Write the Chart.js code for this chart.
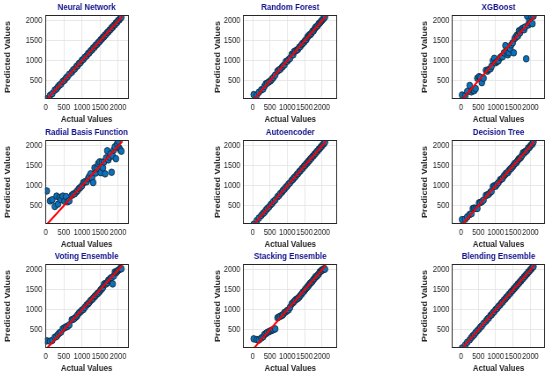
<!DOCTYPE html>
<html>
<head>
<meta charset="utf-8">
<script src="https://cdn.jsdelivr.net/npm/chart.js@4.4.1/dist/chart.umd.min.js"></script>
<style>
  body { margin: 0; background: #fff; }
  #fig { position: relative; width: 550px; height: 379px; overflow: hidden; }
  #fig canvas { position: absolute; transform-origin: 0 0; }
</style>
</head>
<body>
<div id="fig"></div>
<script>
// test set, shared by all models
const actualValues = [30, 120, 180, 250, 300, 340, 380, 420, 470, 520, 560, 600, 650, 720, 760, 800, 850, 880, 920, 960,
  1000, 1040, 1080, 1130, 1170, 1200, 1240, 1280, 1310, 1350, 1380, 1420, 1450, 1490, 1520, 1550, 1580, 1610, 1640, 1670,
  1700, 1730, 1760, 1790, 1820, 1850, 1880, 1910, 1940, 1970, 2000, 2030, 2060, 2090];

const modelNames = ['Neural Network', 'Random Forest', 'XGBoost', 'Radial Basis Function', 'Autoencoder',
  'Decision Tree', 'Voting Ensemble', 'Stacking Ensemble', 'Blending Ensemble'];

const nnPred = [45, 130, 175, 262, 296, 348, 388, 414, 480, 512, 568, 597, 660, 714, 770, 794, 858, 876, 930, 954,
  1012, 1036, 1088, 1124, 1180, 1196, 1248, 1276, 1320, 1344, 1390, 1414, 1458, 1486, 1528, 1546, 1590, 1606, 1648, 1664,
  1710, 1726, 1768, 1786, 1830, 1844, 1888, 1906, 1950, 1964, 2010, 2026, 2068, 2095];
const rfPred = [150, 140, 210, 270, 290, 360, 420, 440, 470, 500, 540, 580, 640, 740, 770, 790, 840, 870, 900, 980,
  990, 1030, 1060, 1160, 1150, 1230, 1250, 1270, 1290, 1340, 1360, 1410, 1440, 1470, 1510, 1530, 1590, 1620, 1650, 1660,
  1690, 1740, 1750, 1800, 1840, 1860, 1880, 1930, 1950, 1980, 2010, 2040, 2070, 2100];
const xgbPred = [140, 120, 230, 380, 220, 260, 250, 300, 560, 600, 580, 450, 560, 760, 740, 780, 800, 860, 1000, 1060,
  950, 980, 1000, 1080, 1110, 1100, 1200, 1380, 1250, 1150, 1200, 1300, 1400, 1450, 1200, 1560, 1600, 1640, 1620, 1750,
  1700, 1780, 1800, 1820, 1780, 1850, 1050, 2120, 1900, 2000, 1950, 2120, 1930, 2120];
const rbfPred = [870, 620, 650, 480, 740, 540, 700, 650, 740, 610, 730, 600, 620, 760, 790, 800, 850, 880, 930, 960,
  1000, 1080, 1100, 1100, 1180, 1230, 1300, 1200, 1080, 1450, 1320, 1440, 1560, 1600, 1330, 1590, 1450, 1600, 1300, 1700,
  1880, 1650, 1720, 1800, 1340, 1750, 1900, 1980, 1680, 2050, 2120, 1950, 1900, 1870];
const aePred = [35, 125, 190, 255, 305, 335, 385, 425, 465, 525, 555, 605, 645, 725, 755, 805, 845, 885, 915, 965,
  995, 1045, 1075, 1135, 1165, 1205, 1235, 1285, 1305, 1355, 1375, 1425, 1445, 1495, 1515, 1555, 1575, 1615, 1635, 1675,
  1695, 1735, 1755, 1795, 1815, 1855, 1875, 1915, 1935, 1975, 1995, 2035, 2055, 2095];
const dtPred = [150, 160, 220, 280, 300, 430, 440, 430, 430, 570, 580, 600, 640, 760, 770, 790, 840, 860, 980, 1000,
  990, 1040, 1080, 1150, 1170, 1190, 1250, 1290, 1320, 1330, 1380, 1420, 1440, 1480, 1520, 1560, 1570, 1600, 1640, 1680,
  1690, 1720, 1760, 1830, 1820, 1860, 1870, 1900, 1950, 1960, 2000, 2030, 2050, 2100];
const votePred = [220, 210, 230, 310, 330, 380, 420, 440, 520, 550, 570, 580, 620, 750, 760, 790, 830, 870, 920, 950,
  990, 1010, 1060, 1120, 1150, 1180, 1230, 1260, 1290, 1330, 1360, 1400, 1420, 1460, 1500, 1530, 1560, 1640, 1660, 1650,
  1680, 1740, 1760, 1790, 1810, 1650, 1850, 1950, 1930, 1960, 1990, 2010, 2040, 2030];
const stackPred = [270, 250, 240, 290, 320, 380, 400, 430, 450, 470, 490, 500, 520, 800, 820, 840, 860, 880, 930, 950,
  980, 1000, 1060, 1150, 1180, 1210, 1250, 1270, 1290, 1320, 1360, 1400, 1440, 1470, 1510, 1540, 1570, 1600, 1640, 1670,
  1690, 1720, 1760, 1790, 1830, 1840, 1870, 1900, 1950, 1970, 2000, 2000, 2030, 2020];
const blendPred = [40, 115, 185, 245, 305, 345, 375, 425, 475, 515, 565, 595, 655, 715, 765, 795, 855, 875, 925, 955,
  1005, 1035, 1085, 1125, 1175, 1195, 1245, 1275, 1315, 1345, 1385, 1415, 1455, 1485, 1525, 1545, 1585, 1605, 1645, 1665,
  1705, 1725, 1765, 1785, 1825, 1845, 1885, 1905, 1945, 1965, 2005, 2025, 2065, 2085];

const predictions = [nnPred, rfPred, xgbPred, rbfPred, aePred, dtPred, votePred, stackPred, blendPred];

const xTicks = [0, 500, 1000, 1500, 2000];
const yTicks = [500, 1000, 1500, 2000];
const idealLine = [0, 2120]; // y = x reference
const yRange = [40, 2150];
const xRanges = [[-20, 2280], [-280, 2450], [-260, 2430]];

// layout of the 3x3 grid (screen px); the figure looks squeezed sideways,
// so each canvas is drawn wider and scaled back with SX
const SX = 0.88;
const colLeft = [3, 213, 420];
const colAxisW = [42, 30, 32];
const colPlotW = [83, 94, 93];
const rowTop = [0, 125, 249];
const PAD_TOP = 15, PAD_RIGHT = 5, X_AXIS_H = 26, CANVAS_H = 125;

const FONT = '"Liberation Sans", Arial, sans-serif';
const TEXT = '#262626';

// title over the plot box + black box frame (matlab style)
const panelFrame = {
  id: 'panelFrame',
  afterDraw(chart, args, opts) {
    const { ctx, chartArea: a } = chart;
    ctx.save();
    ctx.strokeStyle = TEXT;
    ctx.lineWidth = 1;
    ctx.strokeRect(Math.round(a.left) + 0.5, Math.round(a.top) + 0.5,
      Math.round(a.right - a.left) - 1, Math.round(a.bottom - a.top) - 1);
    ctx.fillStyle = '#10108c';
    ctx.font = 'bold 9px ' + FONT;
    ctx.textAlign = 'center';
    ctx.textBaseline = 'middle';
    ctx.fillText(opts.text, (a.left + a.right) / 2, a.top - 7);
    ctx.restore();
  }
};

const fig = document.getElementById('fig');

modelNames.forEach((name, i) => {
  const col = i % 3, row = Math.floor(i / 3);
  const cv = document.createElement('canvas');
  const w = Math.round((colAxisW[col] + colPlotW[col] + PAD_RIGHT) / SX);
  cv.width = w;
  cv.height = CANVAS_H;
  cv.style.left = colLeft[col] + 'px';
  cv.style.top = rowTop[row] + 'px';
  cv.style.width = w + 'px';
  cv.style.height = CANVAS_H + 'px';
  cv.style.transform = 'scaleX(' + SX + ')';
  fig.appendChild(cv);

  const points = actualValues.map((a, k) => ({ x: a, y: predictions[i][k] }));
  const ideal = idealLine.map(v => ({ x: v, y: v }));

  new Chart(cv.getContext('2d'), {
    type: 'scatter',
    data: {
      datasets: [{
        data: ideal,
        showLine: true,
        borderColor: '#ff0000',
        borderWidth: 2,
        pointRadius: 0
      }, {
        data: points,
        backgroundColor: '#0a72bd',
        borderColor: '#14202c',
        borderWidth: 0.8,
        pointRadius: 3.3
      }]
    },
    options: {
      responsive: false,
      animation: false,
      events: [],
      layout: { padding: { top: PAD_TOP, right: PAD_RIGHT / SX, left: 0, bottom: 0 } },
      plugins: {
        legend: { display: false },
        tooltip: { enabled: false },
        panelFrame: { text: name }
      },
      scales: {
        x: {
          type: 'linear',
          min: xRanges[col][0],
          max: xRanges[col][1],
          afterBuildTicks: s => { s.ticks = xTicks.map(v => ({ value: v })); },
          afterFit: s => { s.height = X_AXIS_H; },
          border: { display: false },
          grid: { color: '#e2e2e2', lineWidth: 0.8, drawTicks: false },
          ticks: {
            padding: 4, maxRotation: 0, autoSkip: false, color: TEXT,
            font: { family: FONT, size: 8.5 },
            callback: v => String(v)
          },
          title: { display: true, text: 'Actual Values', color: TEXT, padding: 0, font: { family: FONT, size: 9, weight: 'bold' } }
        },
        y: {
          type: 'linear',
          min: yRange[0],
          max: yRange[1],
          afterBuildTicks: s => { s.ticks = yTicks.map(v => ({ value: v })); },
          afterFit: s => { s.width = colAxisW[col] / SX; },
          border: { display: false },
          grid: { color: '#e2e2e2', lineWidth: 0.8, drawTicks: false },
          ticks: {
            padding: 3, autoSkip: false, color: TEXT,
            font: { family: FONT, size: 8.5 },
            callback: v => String(v)
          },
          title: { display: true, text: 'Predicted Values', color: TEXT, padding: 0, font: { family: FONT, size: 9, weight: 'bold' } }
        }
      }
    },
    plugins: [panelFrame]
  });
});
</script>
</body>
</html>
